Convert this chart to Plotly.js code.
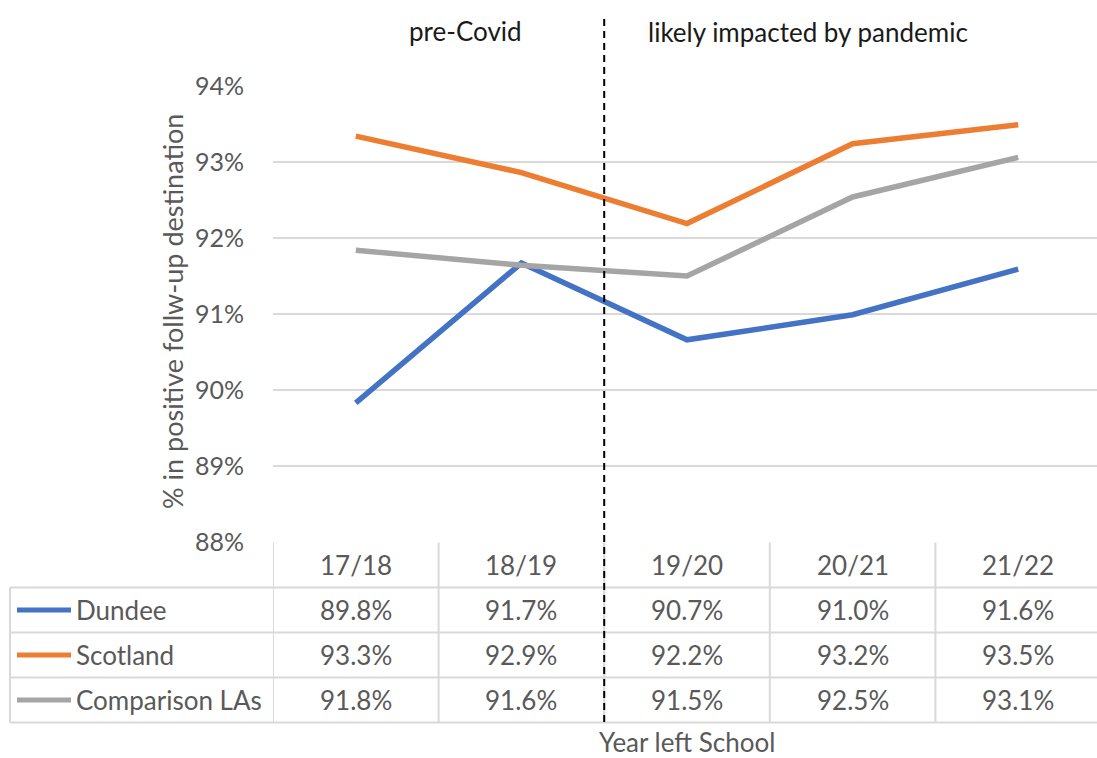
<!DOCTYPE html>
<html>
<head>
<meta charset="utf-8">
<script src="https://cdn.plot.ly/plotly-3.0.1.min.js"></script>
<style>html,body{margin:0;padding:0;background:#fff;overflow:hidden}</style>
</head>
<body>
<div id="chart" style="width:1097px;height:758px"></div>
<script>
const categories = ["17/18", "18/19", "19/20", "20/21", "21/22"];
const dundee = [89.83, 91.67, 90.66, 90.99, 91.59];
const scotland = [93.34, 92.86, 92.19, 93.24, 93.49];
const comparison = [91.84, 91.64, 91.50, 92.54, 93.06];
const seriesNames = ["Dundee", "Scotland", "Comparison LAs"];
const seriesColors = ["#4472C4", "#ED7D31", "#A5A5A5"];
const yTicks = [88, 89, 90, 91, 92, 93, 94];
const yTickText = ["88%", "89%", "90%", "91%", "92%", "93%", "94%"];
const periodLabels = ["pre-Covid", "likely impacted by pandemic"];
const yTitle = "% in positive follw-up destination";
const xTitle = "Year left School";

const W = 1097, H = 758;
const L = 273, T = 86, B = 216;
const plotW = W - L, plotH = H - T - B;
const colW = 165.6;
const FONT = "Lato, sans-serif";
const FS = 26;
const GREY = "#595959";
const LINE = "#D9D9D9";

const py = p => (H - B - p) / plotH;   // pixel y -> paper y
const px = p => (p - L) / plotW;       // pixel x -> paper x

const seriesData = [dundee, scotland, comparison];
const traces = seriesData.map((vals, i) => ({
  type: "scatter", mode: "lines",
  x: categories.map((c, k) => k), y: vals,
  name: seriesNames[i],
  line: {color: seriesColors[i], width: 5.5},
  hoverinfo: "skip", showlegend: false
}));

const shapes = [];
const annotations = [];
const rowTop = 542.5, rowH = 45;
// table horizontal lines
for (let r = 1; r <= 4; r++) {
  const yy = rowTop + r * rowH;
  shapes.push({type: "line", xref: "paper", yref: "paper", x0: px(10), x1: 1, y0: py(yy), y1: py(yy),
    line: {color: LINE, width: 2}});
}
// table vertical lines at category boundaries
for (let k = 0; k < categories.length; k++) {
  shapes.push({type: "line", xref: "x", yref: "paper", x0: k - 0.5, x1: k - 0.5,
    y0: py(rowTop + 4 * rowH), y1: py(rowTop), line: {color: LINE, width: 2}});
}
// legend column left border
shapes.push({type: "line", xref: "paper", yref: "paper", x0: px(10), x1: px(10),
  y0: py(rowTop + 4 * rowH), y1: py(rowTop + rowH), line: {color: LINE, width: 2}});
// vertical dashed divider between pre-Covid and pandemic (drawn on top)
shapes.push({type: "line", xref: "x", yref: "paper", x0: 1.5, x1: 1.5, y0: py(722), y1: py(14),
  line: {color: "#000", width: 2, dash: "7px,5px"}, layer: "above"});

// header row
categories.forEach((c, k) => annotations.push({xref: "x", yref: "paper", x: k, y: py(rowTop + rowH / 2),
  text: c, showarrow: false, font: {family: FONT, size: FS, color: GREY}, xanchor: "center", yanchor: "middle"}));
// data rows
seriesData.forEach((vals, i) => {
  const cy = rowTop + (i + 1.5) * rowH;
  shapes.push({type: "line", xref: "paper", yref: "paper", x0: px(17), x1: px(71), y0: py(cy), y1: py(cy),
    line: {color: seriesColors[i], width: 5}});
  annotations.push({xref: "paper", yref: "paper", x: px(74), y: py(cy), text: seriesNames[i], showarrow: false,
    font: {family: FONT, size: FS, color: GREY}, xanchor: "left", yanchor: "middle"});
  vals.forEach((v, k) => annotations.push({xref: "x", yref: "paper", x: k, y: py(cy),
    text: v.toFixed(1) + "%", showarrow: false, font: {family: FONT, size: FS, color: GREY},
    xanchor: "center", yanchor: "middle"}));
});
// period labels
annotations.push({xref: "x", yref: "paper", x: 0.66, y: py(31), text: periodLabels[0], showarrow: false,
  font: {family: FONT, size: 26, color: "#1a1a1a"}, xanchor: "center", yanchor: "middle"});
annotations.push({xref: "x", yref: "paper", x: 2.73, y: py(32), text: periodLabels[1], showarrow: false,
  font: {family: FONT, size: 26, color: "#1a1a1a"}, xanchor: "center", yanchor: "middle"});
// axis titles
annotations.push({xref: "x", yref: "paper", x: 2, y: py(742), text: xTitle, showarrow: false, height: 28,
  font: {family: FONT, size: 26, color: GREY}, xanchor: "center", yanchor: "middle"});
annotations.push({xref: "paper", yref: "paper", x: px(172), y: py(312), text: yTitle, showarrow: false,
  textangle: -90, font: {family: FONT, size: 27, color: GREY}, xanchor: "center", yanchor: "middle"});

const layout = {
  width: W, height: H,
  margin: {l: L, r: 0, t: T, b: B, pad: 0},
  paper_bgcolor: "#fff", plot_bgcolor: "#fff",
  showlegend: false,
  font: {family: FONT, color: GREY},
  xaxis: {range: [-0.5, -0.5 + plotW / colW], showgrid: false, zeroline: false, showticklabels: false,
    showline: false, ticks: "", fixedrange: true},
  yaxis: {range: [88, 94], tickvals: yTicks, ticktext: yTickText, showgrid: true, gridcolor: LINE, gridwidth: 2,
    zeroline: false, showline: false, ticks: "", ticklabelstandoff: 28,
    tickfont: {family: FONT, size: 25, color: GREY}, fixedrange: true},
  shapes: shapes, annotations: annotations
};

Plotly.newPlot("chart", traces, layout, {displayModeBar: false, staticPlot: true});
</script>
</body>
</html>
